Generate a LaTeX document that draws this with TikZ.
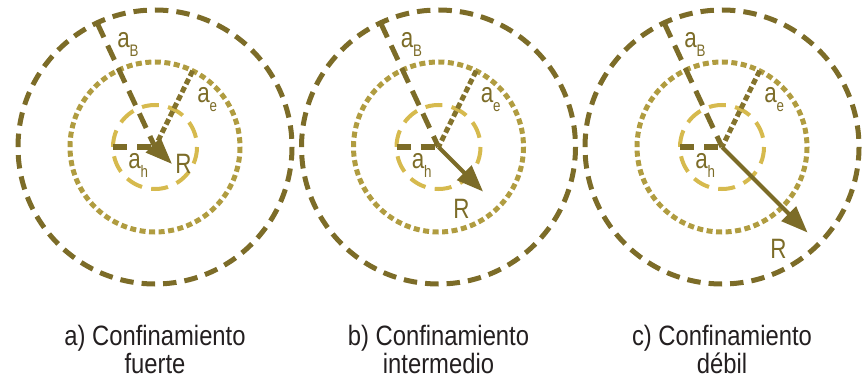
\documentclass[tikz,border=0pt]{standalone}
\usepackage{fontspec}
\newfontfamily\cond[FakeStretch=0.85]{Liberation Sans}
\newfontfamily\lcond[FakeStretch=0.8]{Liberation Sans}
\usetikzlibrary{arrows.meta,calc}
\definecolor{darkol}{RGB}{124,108,40}
\definecolor{midol}{RGB}{176,156,64}
\definecolor{lightol}{RGB}{214,186,78}
\definecolor{captc}{RGB}{35,31,32}
\newcommand\lsub[1]{\raisebox{-6.75pt}{\fontsize{12.5pt}{14pt}\selectfont #1}}
\tikzset{
 outerring/.style={draw=darkol, line width=3.75pt, dash pattern=on 10.1pt off 6.04pt},
 midring/.style={draw=midol, line width=3.75pt, dash pattern=on 4.5pt off 2.65pt},
 innerring/.style={draw=lightol, line width=3pt, dash pattern=on 12.75pt off 7.04pt},
 bline/.style={draw=darkol, line width=3.75pt, dash pattern=on 12pt off 6.75pt},
 eline/.style={draw=darkol!85!midol, line width=3.75pt, dash pattern=on 4.5pt off 2.25pt},
 hline/.style={draw=darkol, line width=3.75pt, dash pattern=on 10.5pt off 7.5pt},
 rarrow/.style={draw=darkol, line width=3pt, -{Triangle[length=20pt,width=15pt]}},
 lbl/.style={text=darkol, font=\lcond\fontsize{21pt}{24pt}\selectfont, inner sep=0pt, anchor=base west},
 capt/.style={text=captc, font=\cond\fontsize{21pt}{25pt}\selectfont, inner sep=0pt, anchor=base},
}
\begin{document}
\begin{tikzpicture}[x=0.75pt,y=-0.75pt]
\useasboundingbox (0,0) rectangle (866,381);
\foreach \i/\cx/\rl/\rx/\ry/\la/\lb in {a/155/24/20/26/a) Confinamiento/fuerte,
                                       b/438.5/63/14.5/71/b) Confinamiento/intermedio,
                                       c/722/121/48/111/c) Confinamiento/débil}{
  \coordinate (c\i) at (\cx,147);
  \draw[outerring] (c\i) circle[radius=137];
  \draw[midring] (c\i) circle[radius=85];
  \draw[innerring] (c\i) circle[radius=42];
  \coordinate (b\i) at ($(c\i)+(-115:137)$);
  \coordinate (e\i) at ($(c\i)+(-63.7:85)$);
  \coordinate (h\i) at ($(c\i)+(180:42)$);
  \coordinate (r\i) at ($(c\i)+(45:\rl)$);
  \draw[bline] (b\i) -- (c\i);
  \draw[eline] (e\i) -- (c\i);
  \draw[hline] (h\i) -- (c\i);
  \draw[rarrow] (c\i) -- (r\i);
  \node[lbl] (lb\i) at ($(c\i)+(-38,-99)$) {a\lsub{B}};
  \node[lbl] (le\i) at ($(c\i)+(42,-44)$) {a\lsub{e}};
  \node[lbl] (lh\i) at ($(c\i)+(-27,21)$) {a\lsub{h}};
  \node[lbl] (lr\i) at ($(c\i)+(\rx,\ry)$) {R};
  \node[capt] (cap\i1) at (\cx,345) {\la};
  \node[capt] (cap\i2) at (\cx,373) {\lb};
}
\end{tikzpicture}
\end{document}
